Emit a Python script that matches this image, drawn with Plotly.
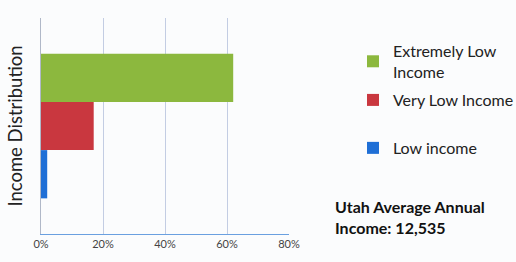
import plotly.graph_objects as go

categories = ["Income Distribution"]
series_names = ["Extremely Low<br>Income", "Very Low Income", "Low income"]
series_values = [62, 17, 2]
series_colors = ["#8cb83e", "#c9373f", "#1f6fd6"]
x_ticks = [0, 20, 40, 60, 80]
x_tick_labels = ["0%", "20%", "40%", "60%", "80%"]

FONT = "Lato, Open Sans, sans-serif"

fig = go.Figure()
legend_ids = ["legend", "legend2", "legend3"]
for name, val, col, lg in zip(series_names, series_values, series_colors, legend_ids):
    fig.add_trace(go.Bar(
        y=categories, x=[val], name=name, orientation="h",
        marker=dict(color=col, line=dict(width=0)),
        legend=lg,
    ))

legend_common = dict(
    bgcolor="rgba(0,0,0,0)", borderwidth=0,
    font=dict(family=FONT, size=16, color="#222222"),
    xanchor="left", yanchor="top", itemwidth=30, tracegroupgap=0,
)

fig.update_layout(
    width=516, height=262,
    margin=dict(l=41, r=227, t=18, b=28, autoexpand=False),
    paper_bgcolor="#fbfcfd", plot_bgcolor="#fbfcfd",
    barmode="group", bargap=0.33, bargroupgap=0,
    showlegend=True,
    legend=dict(x=1.258, y=0.926, **legend_common),
    legend2=dict(x=1.258, y=0.699, **legend_common),
    legend3=dict(x=1.258, y=0.477, **legend_common),
    xaxis=dict(
        range=[0, 80], tickvals=x_ticks, ticktext=x_tick_labels,
        showgrid=True, gridcolor="#c3cde3", gridwidth=1,
        showline=True, linecolor="#6aa0e0", linewidth=1,
        zeroline=False, automargin=False,
        tickfont=dict(family=FONT, size=11, color="#444444"),
        ticks="", ticklen=0,
    ),
    yaxis=dict(
        showticklabels=False, showgrid=False, zeroline=False,
        showline=True, linecolor="#b0b8c8", linewidth=1,
        autorange="reversed", automargin=False,
        title=dict(text="Income Distribution", standoff=12,
                   font=dict(family=FONT, size=18.5, color="#222222")),
    ),
    annotations=[dict(
        text="<b>Utah Average Annual<br>Income: 12,535</b>",
        xref="paper", yref="paper", x=1.177, y=0.182,
        xanchor="left", yanchor="top", showarrow=False, align="left",
        font=dict(family=FONT, size=16, color="#111111"),
    )],
)

fig.write_html("out.html", config={"displayModeBar": False},
               post_script="document.body.style.margin='0';")
